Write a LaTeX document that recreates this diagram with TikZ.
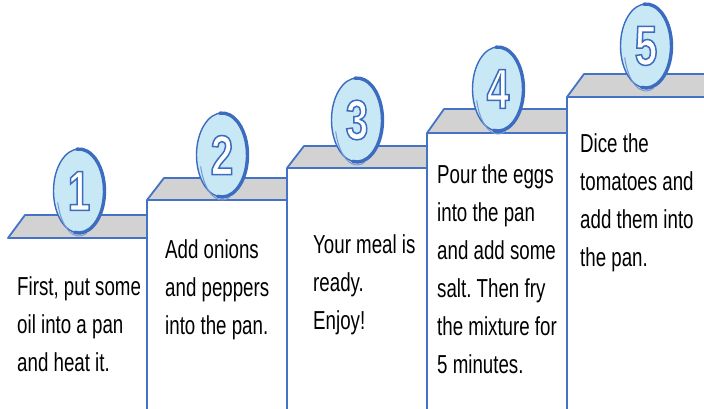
\documentclass[tikz,border=0pt]{standalone}
\usepackage{fontspec}
\setmainfont{Liberation Sans}[FakeStretch=0.72]
\newfontfamily\digitfont{Liberation Sans Bold}[FakeStretch=0.72]
\usetikzlibrary{shapes.geometric}
\definecolor{stepblue}{HTML}{4472C4}
\definecolor{badgeblue}{HTML}{3C6CC0}
\definecolor{badgefill}{HTML}{C8E8F6}
\definecolor{topgray}{HTML}{D2D2D2}
\frenchspacing
\newcommand\outlinedigit[1]{\color{white}\special{pdf:literal direct 2 Tr 1.5 w 0.235 0.424 0.753 RG}#1\special{pdf:literal direct 0 Tr}}
\tikzset{
  topface/.style={fill=topgray, draw=stepblue, line width=1.8pt, line join=round},
  edge/.style={draw=stepblue, line width=1.6pt},
  badge/.style={ellipse, fill=badgefill, draw=badgeblue, line width=1.4pt, minimum width=51pt, minimum height=84pt, inner sep=0pt, font=\digitfont\fontsize{56}{56}\selectfont},
  txt/.style={anchor=north west, inner sep=0pt, align=left, text=black, font=\fontsize{26}{38}\selectfont}
}
\newcommand\mybadge[4]{% x, y, number, name
  \node[badge] (#4) at (#1,#2) {\outlinedigit{#3}};
  \draw[badgeblue, line width=3.4pt, line cap=round, shift={(#4.center)}]
    (-100:25.5pt and 42pt) arc[start angle=-100, end angle=95, x radius=25.5pt, y radius=42pt];
  \draw[badgeblue!70, line width=1pt, line cap=round, shift={(#4.center)}]
    (-165:22pt and 45pt) arc[start angle=-165, end angle=-70, x radius=22pt, y radius=45pt];
}
\begin{document}
\begin{tikzpicture}[x=1pt, y=-1pt]
\useasboundingbox[fill=white] (0,0) rectangle (704,408);
% top faces
\draw[topface] (8,238) -- (25,215) -- (147,215) -- (147,238) -- cycle;
\draw[topface] (147,200) -- (164,178) -- (287,178) -- (287,200) -- cycle;
\draw[topface] (287,168) -- (304,146) -- (427,146) -- (427,168) -- cycle;
\draw[topface] (427,133) -- (444,109) -- (567,109) -- (567,133) -- cycle;
\draw[topface] (567,97) -- (584,74) -- (706,74) -- (706,97) -- cycle;
% step walls
\fill[white] (148,201) rectangle (286,410);
\fill[white] (288,169) rectangle (426,410);
\fill[white] (428,134) rectangle (566,410);
\fill[white] (568,98) rectangle (706,410);
\draw[edge] (147,200) -- (147,410);
\draw[edge] (287,168) -- (287,410);
\draw[edge] (427,133) -- (427,410);
\draw[edge] (567,97) -- (567,410);
% badges
\mybadge{79}{191}{1}{b1}
\mybadge{222}{155}{2}{b2}
\mybadge{357}{120}{3}{b3}
\mybadge{498}{89}{4}{b4}
\mybadge{646}{46}{5}{b5}
% texts
\node[txt] (t1) at (17,276) {First, put some\\oil into a pan\\and heat it.};
\node[txt] (t2) at (165,239) {Add onions\\and peppers\\into the pan.};
\node[txt] (t3) at (313,234) {Your meal is\\ready.\\Enjoy!};
\node[txt] (t4) at (437,164) {Pour the eggs\\into the pan\\and add some\\salt. Then fry\\the mixture for\\5 minutes.};
\node[txt] (t5) at (580,133) {Dice the\\tomatoes and\\add them into\\the pan.};
\end{tikzpicture}
\end{document}
